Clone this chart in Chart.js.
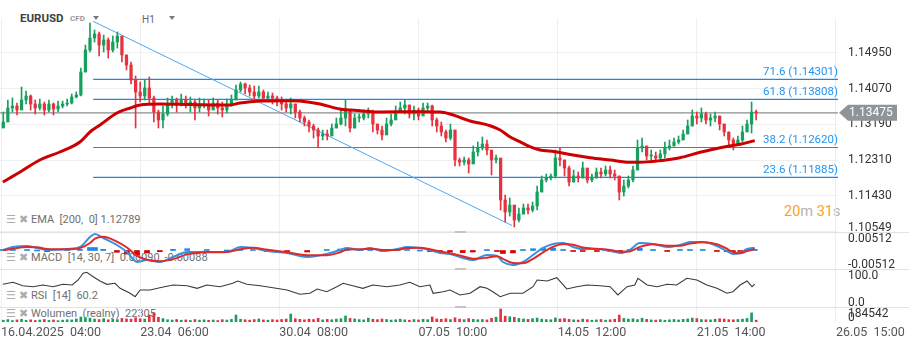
<!DOCTYPE html>
<html>
<head>
<meta charset="utf-8">
<script src="https://cdn.jsdelivr.net/npm/chart.js@4.4.1/dist/chart.umd.min.js"></script>
<style>
  body { margin: 0; background: #fff; font-family: Roboto, sans-serif; overflow: hidden; }
  #wrap { position: relative; width: 909px; height: 346px; }
  canvas { position: absolute; left: 0; }
  .t { position: absolute; white-space: pre; line-height: 14px; }
  .leg { color: #707070; font-size: 11px; left: 31px; }
  .ico { color: #ababab; font-size: 11px; font-family: "DejaVu Sans", sans-serif; }
  .sep { position: absolute; left: 0; width: 909px; height: 1px; background: #e2e2e2; }
  .grip { position: absolute; left: 455px; width: 11px; height: 2px; background: #c4c4c4; }
  .tri { position: absolute; width: 0; height: 0; border-left: 3.5px solid transparent; border-right: 3.5px solid transparent; border-top: 4px solid #7a7a7a; }
</style>
</head>
<body>
<div id="wrap">
  <div class="t" style="left:20px;top:11px;font-size:11.5px;font-weight:bold;color:#3c4043">EURUSD</div>
  <div class="t" style="left:70px;top:12px;font-size:8px;font-weight:bold;color:#9a9a9a">CFD</div>
  <div class="tri" style="left:93px;top:16px"></div>
  <div class="t" style="left:142px;top:13px;font-size:10px;color:#666">H1</div>
  <div class="tri" style="left:169px;top:16px"></div>

  <div class="t ico" style="left:6px;top:213px">☰</div><div class="t ico" style="left:19px;top:213px">✖</div>
  <div class="t leg" style="top:213px">EMA  [200,  0] 1.12789</div>
  <div class="t ico" style="left:6px;top:251px">☰</div><div class="t ico" style="left:19px;top:251px">✖</div>
  <div class="t leg" style="top:251px">MACD  [14, 30, 7]  0.00090, -0.00088</div>
  <div class="t ico" style="left:6px;top:289px">☰</div><div class="t ico" style="left:19px;top:289px">✖</div>
  <div class="t leg" style="top:289px">RSI  [14]  60.2</div>
  <div class="t ico" style="left:6px;top:307px">☰</div><div class="t ico" style="left:19px;top:307px">✖</div>
  <div class="t leg" style="top:307px">Wolumen  (realny)  22305</div>

  <div class="t" style="left:784px;top:203px;font-size:14.5px;line-height:18px"><span style="color:#f5a31d">20</span><span style="color:#b3b3b3">m </span><span style="color:#f5a31d">31</span><span style="color:#b3b3b3">s</span></div>

  <canvas id="price" width="909" height="214" style="top:18px"></canvas>
  <canvas id="macd" width="909" height="37" style="top:232px"></canvas>
  <canvas id="rsi" width="909" height="38" style="top:269px"></canvas>
  <canvas id="vol" width="909" height="39" style="top:307px"></canvas>

  <div class="sep" style="top:232px"></div>
  <div class="sep" style="top:269px"></div>
  <div class="sep" style="top:307px"></div>
  <div class="grip" style="top:231px"></div>
  <div class="grip" style="top:268px"></div>
  <div class="grip" style="top:306px"></div>
</div>

<script>
// time axis: candle index, one grid step = one week of H1 bars (4h candles here)
const X_MIN = -0.22
const X_MAX = 183.44
const gridTicks = [0, 30.5, 61, 91.5, 122, 152.5, 183]
const timeLabels = ["16.04.2025  04:00", "23.04  06:00", "30.04  08:00", "07.05  10:00", "14.05  12:00", "21.05  14:00", "26.05  15:00"]

const priceTicks = [1.10549, 1.11430, 1.12310, 1.13190, 1.14070, 1.14950]

const firstOpen = 1.13100
const closes = [
  1.13248, 1.13594, 1.13643, 1.13544, 1.13791, 1.13889, 1.13692, 1.13594, 1.13692, 1.13544,
  1.13692, 1.13569, 1.13643, 1.13692, 1.13717, 1.13865, 1.13914, 1.14481, 1.15023, 1.15319,
  1.15418, 1.15146, 1.15270, 1.15023, 1.15220, 1.15368, 1.14900, 1.14653, 1.14284, 1.13988,
  1.13889, 1.14087, 1.13840, 1.13495, 1.13298, 1.13446, 1.13692, 1.13791, 1.13692, 1.13791,
  1.13692, 1.13741, 1.13594, 1.13667, 1.13692, 1.13544, 1.13717, 1.13594, 1.13544, 1.13643,
  1.13791, 1.14037, 1.14185, 1.14087, 1.13988, 1.13889, 1.13988, 1.13840, 1.13889, 1.13840,
  1.13791, 1.13692, 1.13594, 1.13692, 1.13495, 1.13347, 1.13248, 1.13150, 1.13051, 1.12903,
  1.12953, 1.12903, 1.13100, 1.13199, 1.13347, 1.13544, 1.13100, 1.13347, 1.13347, 1.13446,
  1.13495, 1.13199, 1.13051, 1.12928, 1.13199, 1.13298, 1.13495, 1.13594, 1.13667, 1.13446,
  1.13544, 1.13396, 1.13594, 1.13643, 1.13298, 1.13150, 1.13002, 1.12854, 1.13051, 1.12312,
  1.12262, 1.12312, 1.12213, 1.12509, 1.12607, 1.12706, 1.12558, 1.12312, 1.12361, 1.11326,
  1.11030, 1.11202, 1.10833, 1.10980, 1.11128, 1.11079, 1.11178, 1.11523, 1.11819, 1.11868,
  1.11917, 1.12361, 1.12312, 1.12115, 1.11769, 1.11917, 1.11868, 1.12115, 1.11819, 1.11868,
  1.12016, 1.11967, 1.12065, 1.11967, 1.11917, 1.11523, 1.11671, 1.11819, 1.12065, 1.12607,
  1.12657, 1.12410, 1.12410, 1.12361, 1.12460, 1.12607, 1.12657, 1.12755, 1.12805, 1.12953,
  1.13150, 1.13396, 1.13347, 1.13446, 1.13298, 1.13347, 1.13396, 1.13199, 1.13002, 1.12805,
  1.12706, 1.12805, 1.13002, 1.13199, 1.13495, 1.13475
]
const highs = [
  1.13495, 1.13791, 1.13840, 1.13717, 1.14111, 1.14013, 1.13914, 1.13791, 1.13815, 1.13741,
  1.13791, 1.13717, 1.13766, 1.13766, 1.13815, 1.13939, 1.13988, 1.14580, 1.15146, 1.15689,
  1.15516, 1.15467, 1.15393, 1.15319, 1.15368, 1.15467, 1.15270, 1.14900, 1.14727, 1.14382,
  1.14234, 1.14284, 1.14358, 1.13889, 1.13544, 1.13643, 1.13840, 1.13889, 1.13840, 1.13939,
  1.13889, 1.13865, 1.13791, 1.13840, 1.13815, 1.13791, 1.13840, 1.13791, 1.13741, 1.13815,
  1.13914, 1.14160, 1.14234, 1.14210, 1.14160, 1.14136, 1.14136, 1.14037, 1.13988, 1.13963,
  1.13889, 1.13865, 1.13791, 1.13840, 1.13692, 1.13544, 1.13396, 1.13298, 1.13199, 1.13100,
  1.13051, 1.13051, 1.13199, 1.13347, 1.13544, 1.13791, 1.13495, 1.13446, 1.13446, 1.13544,
  1.13594, 1.13544, 1.13199, 1.13150, 1.13347, 1.13446, 1.13643, 1.13741, 1.13791, 1.13667,
  1.13643, 1.13594, 1.13717, 1.13717, 1.13667, 1.13347, 1.13248, 1.13051, 1.13199, 1.13051,
  1.12361, 1.12386, 1.12361, 1.12657, 1.12755, 1.12879, 1.12805, 1.12435, 1.12435, 1.12312,
  1.11449, 1.11375, 1.11178, 1.11128, 1.11227, 1.11227, 1.11276, 1.11671, 1.11917, 1.11967,
  1.11967, 1.12558, 1.12607, 1.12312, 1.12164, 1.12065, 1.12016, 1.12262, 1.12065, 1.11967,
  1.12115, 1.12115, 1.12164, 1.12164, 1.12065, 1.11917, 1.11819, 1.11917, 1.12164, 1.12805,
  1.12854, 1.12607, 1.12558, 1.12509, 1.12558, 1.12755, 1.12805, 1.12854, 1.12903, 1.13051,
  1.13298, 1.13544, 1.13495, 1.13594, 1.13495, 1.13446, 1.13495, 1.13396, 1.13199, 1.13002,
  1.12854, 1.12903, 1.13150, 1.13298, 1.13741, 1.13544
]
const lows = [
  1.13174, 1.13347, 1.13495, 1.13421, 1.13594, 1.13692, 1.13544, 1.13446, 1.13544, 1.13421,
  1.13495, 1.13421, 1.13495, 1.13594, 1.13643, 1.13692, 1.13840, 1.13889, 1.14481, 1.14974,
  1.15220, 1.14875, 1.14974, 1.14826, 1.14974, 1.15072, 1.14727, 1.14530, 1.14185, 1.13100,
  1.13741, 1.13791, 1.13692, 1.13248, 1.13100, 1.13100, 1.13396, 1.13594, 1.13495, 1.13643,
  1.13594, 1.13495, 1.13298, 1.13495, 1.13594, 1.13396, 1.13594, 1.13446, 1.13372, 1.13470,
  1.13643, 1.13791, 1.13988, 1.13939, 1.13889, 1.13791, 1.13840, 1.13766, 1.13791, 1.13692,
  1.13643, 1.13544, 1.13495, 1.13446, 1.13347, 1.13248, 1.13150, 1.13002, 1.12854, 1.12632,
  1.12805, 1.12805, 1.12953, 1.13100, 1.13174, 1.13150, 1.13002, 1.13100, 1.13248, 1.13298,
  1.13347, 1.13002, 1.12953, 1.12805, 1.13051, 1.13150, 1.13347, 1.13495, 1.13446, 1.13347,
  1.13298, 1.13298, 1.13446, 1.13495, 1.13150, 1.13002, 1.12903, 1.12755, 1.12805, 1.12164,
  1.12164, 1.12189, 1.11992, 1.12262, 1.12410, 1.12558, 1.12435, 1.11942, 1.12238, 1.11079,
  1.10783, 1.10931, 1.10660, 1.10783, 1.10980, 1.10980, 1.11030, 1.11079, 1.11523, 1.11769,
  1.11819, 1.11868, 1.12164, 1.11917, 1.11671, 1.11769, 1.11769, 1.11868, 1.11745, 1.11769,
  1.11868, 1.11868, 1.11917, 1.11868, 1.11819, 1.11326, 1.11424, 1.11621, 1.11769, 1.12065,
  1.12509, 1.12312, 1.12312, 1.12262, 1.12312, 1.12361, 1.12558, 1.12657, 1.12706, 1.12805,
  1.12953, 1.13150, 1.13199, 1.13248, 1.13199, 1.13150, 1.13248, 1.13051, 1.12903, 1.12657,
  1.12558, 1.12706, 1.12755, 1.13051, 1.12977, 1.13298
]
const volumes = [
  22000, 30000, 18000, 26000, 34000, 21000, 27000, 19000, 24000, 31000, 20000, 25000, 17000, 23000, 28000, 26000, 38000,
  62000, 55000, 48000,
  36000, 30000, 41000, 27000, 33000, 29000, 44000, 38000, 35000,
  52000, 40000, 36000, 86000, 110000, 58000, 42000,
  28000, 24000, 31000, 22000, 26000, 19000, 30000, 23000, 27000, 21000, 25000, 18000, 29000, 24000, 32000,
  86000,
  34000, 28000, 23000, 30000, 38000, 26000, 22000, 29000, 25000, 31000, 36000,
  98000,
  40000, 33000, 27000, 35000, 30000, 45000, 26000, 32000, 28000, 36000, 41000,
  74000,
  44000, 38000, 30000, 26000, 48000, 33000, 29000, 37000, 31000, 24000, 28000, 35000, 27000, 22000, 30000, 25000, 33000, 29000,
  62000,
  38000, 34000, 40000, 30000, 52000, 36000, 29000, 42000, 33000, 28000, 31000, 26000, 46000, 60000,
  160000,
  72000, 64000, 58000, 44000, 38000, 32000, 41000, 48000, 35000, 30000, 28000,
  50000, 38000, 42000, 33000, 27000, 24000, 36000, 29000, 22000, 26000, 31000, 23000, 28000, 34000,
  86000,
  44000, 36000, 40000, 30000, 46000, 32000, 26000, 24000, 29000, 22000, 27000, 31000, 25000, 33000,
  38000, 48000, 42000, 30000, 28000, 26000, 34000, 40000, 36000, 29000, 27000, 31000, 35000, 44000,
  112000, 22305
]

// EMA 200 as [index, price]
const emaPoints = [
  [0.4, 1.11769], [4.2, 1.12016], [8.5, 1.12312], [12.9, 1.12509], [17.3, 1.12755], [19.5, 1.13002],
  [21.7, 1.13174], [25.4, 1.13470], [28.3, 1.13594], [30.5, 1.13667], [34.8, 1.13692], [41.4, 1.13680],
  [50.2, 1.13667], [52.4, 1.13717], [56.8, 1.13766], [63.3, 1.13774], [65.5, 1.13766], [69.9, 1.13692],
  [74.3, 1.13569], [78.7, 1.13527], [83.1, 1.13495], [91.8, 1.13502], [96.2, 1.13495], [98.4, 1.13446],
  [102.8, 1.13273], [107.2, 1.13157], [109.4, 1.13051], [111.5, 1.12886], [113.7, 1.12763], [115.9, 1.12640],
  [118.1, 1.12558], [121.4, 1.12517], [124.7, 1.12447], [129.1, 1.12369], [133.5, 1.12312], [137.8, 1.12255],
  [140.0, 1.12255], [144.4, 1.12295], [148.8, 1.12369], [153.2, 1.12502], [157.6, 1.12615], [162.0, 1.12699],
  [165.2, 1.12789]
]

// fibonacci retracement between the swing high and the swing low
const fibLevels = ["71.6", "61.8", "38.2", "23.6"]
const fibPrices = [1.14301, 1.13808, 1.12620, 1.11885]
const swingStart = 20.2
const swingEnd = 112.0
const swingHigh = 1.15731
const swingLow = 1.10697

// MACD rows: [index, macd, signal, histogram]
const macdRows = [
  [0.4, 0.00017, 0.0001, 0.0002], [2.6, 0.00117, 0.0006, 0.0003], [5.7, 0.00151, 0.0012, 0.0002],
  [7.9, 0.00084, 0.0011, 0], [10.1, 0.00017, 0.0005, -0.0002], [14.5, 0.0005, 0.0004, 0.0002],
  [17.3, 0.00117, 0.0008, 0.0004], [19.5, 0.00452, 0.0025, 0.001], [20.6, 0.00553, 0.004, 0.001],
  [22.4, 0.00419, 0.0046, 0.0004], [25.4, 0.00184, 0.003, -0.0006], [27.6, -0.0005, 0.001, -0.0012],
  [29.8, -0.00385, -0.0018, -0.0016], [32.0, -0.00318, -0.0031, -0.0008], [34.8, -0.00385, -0.0036, -0.0004],
  [37.7, -0.00218, -0.0029, 0.0004], [40.8, -0.0005, -0.0013, 0.0006], [45.1, -0.0005, -0.0006, 0.0002],
  [49.5, -0.0005, -0.0005, 0], [52.4, 0.00117, 0.0004, 0.0005], [55.2, 0.00084, 0.0009, 0.0002],
  [58.3, -0.00017, 0.0003, -0.0003], [62.7, -0.00084, -0.0006, -0.0003], [67.1, -0.00218, -0.0016, -0.0005],
  [71.4, -0.00117, -0.0016, 0.0002], [74.3, 0.00017, -0.0006, 0.0005], [75.8, 0.00084, 0.0003, 0.0004],
  [78.7, 0.00017, 0.0004, 0.0001], [80.9, 0.00084, 0.0006, 0.0002], [83.7, -0.00017, 0.0002, -0.0002],
  [86.8, 0.0005, 0.0002, 0.0002], [89.0, 0.00117, 0.0008, 0.0003], [91.8, 0.00084, 0.0009, 0],
  [94.0, 0.00017, 0.0004, -0.0002], [96.2, -0.00084, -0.0003, -0.0005], [98.4, -0.00117, -0.0009, -0.0005],
  [101.2, -0.00251, -0.0019, -0.0007], [103.4, -0.00318, -0.0028, -0.0005], [106.5, -0.00151, -0.0024, 0.0003],
  [108.7, -0.00184, -0.0019, -0.0002], [110.0, -0.00385, -0.0028, -0.001], [112.2, -0.00486, -0.0042, -0.0008],
  [114.4, -0.00385, -0.0043, 0.0002], [116.6, -0.00151, -0.0028, 0.0006], [118.8, 0.00084, -0.0006, 0.0008],
  [121.0, 0.00218, 0.0012, 0.0008], [123.2, 0.00251, 0.0022, 0.0003], [125.4, 0.00117, 0.0019, -0.0002],
  [127.5, 0.0005, 0.001, -0.0002], [130.6, 0.0005, 0.0006, -0.0001], [133.5, -0.00017, 0.0002, -0.0002],
  [135.7, -0.00084, -0.0004, -0.0003], [137.8, 0.00017, -0.0003, 0.0002], [140.0, 0.00251, 0.0012, 0.0008],
  [142.9, 0.00218, 0.0021, 0.0002], [146.0, 0.00117, 0.0016, -0.0002], [148.8, 0.00184, 0.0016, 0.0002],
  [151.0, 0.00285, 0.0023, 0.0003], [153.8, 0.00285, 0.0028, 0.0001], [156.9, 0.00151, 0.0021, -0.0003],
  [159.1, -0.00017, 0.0006, -0.0004], [160.4, -0.00117, -0.0006, -0.0004], [162.0, -0.00084, -0.0009, -0.0001],
  [163.5, 0.0005, -0.0002, 0.0004], [165.2, 0.0009, 0.0005, 0.0004]
]

// RSI 14 as [index, value]
const rsiPoints = [
  [0.4, 59.7], [2.6, 65.0], [4.8, 56.1], [7.0, 53.4], [9.2, 57.9], [11.4, 53.4], [13.6, 59.7], [15.6, 57.9],
  [16.9, 71.1], [18.0, 88.7], [18.8, 91.3], [20.2, 79.7], [21.7, 68.4], [23.2, 59.7], [25.0, 62.4], [26.1, 49.2],
  [28.3, 36.1], [29.4, 27.1], [30.5, 44.7], [32.7, 44.7], [34.8, 50.8], [37.7, 57.9], [40.8, 56.1], [43.0, 49.2],
  [45.1, 57.9], [48.0, 53.4], [50.8, 62.4], [51.9, 68.4], [53.9, 59.7], [56.8, 56.1], [59.6, 50.8], [62.7, 44.7],
  [65.5, 33.4], [67.7, 36.1], [69.3, 47.4], [71.4, 40.3], [73.6, 53.4], [75.0, 62.4], [77.1, 56.1], [79.3, 49.2],
  [81.5, 57.9], [84.6, 53.4], [87.4, 57.9], [89.6, 65.0], [91.8, 53.4], [94.0, 57.9], [94.7, 36.1], [96.9, 40.3],
  [98.4, 44.7], [100.6, 31.6], [102.8, 36.1], [105.0, 53.4], [106.5, 49.2], [107.8, 40.3], [109.4, 27.1], [111.6, 36.1],
  [114.4, 36.1], [116.6, 53.4], [117.5, 71.1], [119.7, 68.4], [121.8, 77.1], [124.0, 47.4], [126.2, 53.4], [128.4, 57.9],
  [131.3, 56.1], [133.5, 53.4], [135.2, 31.6], [137.2, 53.4], [138.9, 57.9], [139.6, 75.5], [141.6, 57.9], [143.8, 53.4],
  [146.0, 59.7], [148.1, 57.9], [150.3, 75.5], [152.5, 71.1], [154.7, 57.9], [156.9, 49.2], [159.1, 36.1], [160.4, 40.3],
  [162.0, 57.9], [163.5, 68.4], [164.6, 53.4], [165.2, 60.2]
]

const GREEN = "#17a05d"
const RED = "#e6323f"

const opens = closes.map((c, i) => i === 0 ? firstOpen : closes[i - 1])
const candleColors = closes.map((c, i) => c >= opens[i] ? GREEN : RED)
const lastPrice = closes[closes.length - 1]

function timeAxis(showLabels) {
  return {
    type: "linear",
    min: X_MIN,
    max: X_MAX,
    offset: false,
    afterBuildTicks: s => { s.ticks = gridTicks.map(v => ({ value: v })) },
    grid: { color: "#efefef", drawTicks: false, offset: false },
    border: { display: false },
    ticks: {
      display: showLabels, align: "start", padding: 3, autoSkip: false, maxRotation: 0,
      color: "#555", font: { family: "Roboto", size: 12.5 },
      callback: (v, i) => timeLabels[i]
    },
    afterFit: s => { s.height = showLabels ? 24 : 0; s.paddingLeft = 0; s.paddingRight = 0 }
  }
}

function valueAxis(min, max, ticks, showGrid) {
  return {
    type: "linear",
    position: "right",
    min: min,
    max: max,
    afterBuildTicks: s => { s.ticks = ticks.map(v => ({ value: v })) },
    grid: { display: showGrid, color: "#efefef", drawTicks: false },
    border: { display: false },
    ticks: { display: false },
    afterFit: s => { s.width = 71; s.paddingTop = 0; s.paddingBottom = 0 }
  }
}

// right side labels, kept inside their pane like the terminal does
const sideLabels = {
  id: "sideLabels",
  afterDraw(chart, args, opts) {
    const { ctx, chartArea } = chart
    const y = chart.scales.y
    ctx.save()
    ctx.font = "12px Roboto"
    ctx.fillStyle = "#333"
    ctx.textBaseline = "middle"
    ctx.textAlign = "left"
    opts.values.forEach((v, i) => {
      let py = y.getPixelForValue(v)
      py = Math.min(Math.max(py, chartArea.top + 7), chartArea.bottom - 4.5)
      ctx.fillText(opts.texts[i], chartArea.right + 10, py)
    })
    ctx.restore()
  }
}

// fib captions and the last price tag
const priceMarks = {
  id: "priceMarks",
  afterDraw(chart) {
    const { ctx, chartArea } = chart
    const y = chart.scales.y
    ctx.save()
    ctx.font = "11.5px Roboto"
    ctx.fillStyle = "#2196f3"
    ctx.textAlign = "right"
    ctx.textBaseline = "middle"
    fibPrices.forEach((p, i) => {
      ctx.fillText(fibLevels[i] + " (" + p.toFixed(5) + ")", chartArea.right, y.getPixelForValue(p) - 7.5)
    })

    const py = y.getPixelForValue(lastPrice)
    const x0 = chartArea.right + 1
    ctx.fillStyle = "#8e959a"
    ctx.beginPath()
    ctx.moveTo(x0, py)
    ctx.lineTo(x0 + 9, py - 8)
    ctx.lineTo(897, py - 8)
    ctx.lineTo(897, py + 8)
    ctx.lineTo(x0 + 9, py + 8)
    ctx.closePath()
    ctx.fill()
    ctx.font = "12px Roboto"
    ctx.fillStyle = "#fff"
    ctx.textAlign = "left"
    ctx.fillText(lastPrice.toFixed(5), 849, py + 0.5)
    ctx.restore()
  }
}

const base = {
  responsive: false,
  devicePixelRatio: 1,
  animation: false,
  events: [],
  layout: { padding: 0 },
  plugins: { legend: { display: false }, tooltip: { enabled: false } }
}

function flatLine(price) {
  return [{ x: X_MIN, y: price }, { x: X_MAX, y: price }]
}

const priceDatasets = [
  {
    type: "line", order: 0,
    data: emaPoints.map(p => ({ x: p[0], y: p[1] })),
    borderColor: "#cc0000", borderWidth: 3, pointRadius: 0,
    tension: 0.4, cubicInterpolationMode: "monotone"
  },
  {
    type: "bar", order: 1, grouped: false,
    data: closes.map((c, i) => ({ x: i + 0.5, y: [opens[i], c] })),
    backgroundColor: candleColors, barThickness: 2.6, minBarLength: 1
  },
  {
    type: "bar", order: 2, grouped: false,
    data: closes.map((c, i) => ({ x: i + 0.5, y: [lows[i], highs[i]] })),
    backgroundColor: candleColors, barThickness: 1
  },
  {
    type: "line", order: 3,
    data: flatLine(lastPrice),
    borderColor: "#8c8c8c", borderWidth: 1.2, pointRadius: 0
  },
  {
    type: "line", order: 4,
    data: [{ x: swingStart, y: swingHigh }, { x: swingEnd, y: swingLow }],
    borderColor: "#4aa8f5", borderWidth: 1, pointRadius: 0
  }
]
fibPrices.forEach(p => {
  priceDatasets.push({
    type: "line", order: 5,
    data: [{ x: swingStart, y: p }, { x: X_MAX, y: p }],
    borderColor: "#1e88e5", borderWidth: 1.2, pointRadius: 0
  })
})

new Chart(document.getElementById("price"), {
  type: "bar",
  data: { datasets: priceDatasets },
  options: {
    ...base,
    plugins: { ...base.plugins, sideLabels: { values: priceTicks, texts: priceTicks.map(v => v.toFixed(5)) } },
    scales: { x: timeAxis(false), y: valueAxis(1.10537, 1.15812, priceTicks, true) }
  },
  plugins: [sideLabels, priceMarks]
})

new Chart(document.getElementById("macd"), {
  type: "bar",
  data: {
    datasets: [
      {
        type: "line", order: 0,
        data: macdRows.map(r => ({ x: r[0], y: r[2] })),
        borderColor: "#e02a2a", borderWidth: 2, pointRadius: 0,
        tension: 0.4, cubicInterpolationMode: "monotone"
      },
      {
        type: "line", order: 1,
        data: macdRows.map(r => ({ x: r[0], y: r[1] })),
        borderColor: "#3593e0", borderWidth: 2, pointRadius: 0,
        tension: 0.4, cubicInterpolationMode: "monotone"
      },
      {
        type: "bar", order: 2, grouped: false,
        data: macdRows.map(r => ({ x: r[0], y: r[3] })),
        backgroundColor: macdRows.map(r => r[3] >= 0 ? "#1e88e5" : "#d50000"),
        barThickness: 5, minBarLength: 1
      }
    ]
  },
  options: {
    ...base,
    plugins: { ...base.plugins, sideLabels: { values: [0.00512, -0.00512], texts: ["0.00512", "-0.00512"] } },
    scales: { x: timeAxis(false), y: valueAxis(-0.0062, 0.0062, [0], false) }
  },
  plugins: [sideLabels]
})

new Chart(document.getElementById("rsi"), {
  type: "line",
  data: {
    datasets: [{
      data: rsiPoints.map(p => ({ x: p[0], y: p[1] })),
      borderColor: "#3a3a3a", borderWidth: 1.1, pointRadius: 0, tension: 0
    }]
  },
  options: {
    ...base,
    plugins: { ...base.plugins, sideLabels: { values: [100, 0], texts: ["100.0", "0.0"] } },
    scales: { x: timeAxis(false), y: valueAxis(0, 100, [0], false) }
  },
  plugins: [sideLabels]
})

new Chart(document.getElementById("vol"), {
  type: "bar",
  data: {
    datasets: [{
      data: volumes.map((v, i) => ({ x: i + 0.5, y: v })),
      backgroundColor: candleColors, barThickness: 2
    }]
  },
  options: {
    ...base,
    plugins: { ...base.plugins, sideLabels: { values: [184542, 0], texts: ["184542", "0"] } },
    scales: { x: timeAxis(true), y: valueAxis(0, 184542, [0], false) }
  },
  plugins: [sideLabels]
})
</script>
</body>
</html>
